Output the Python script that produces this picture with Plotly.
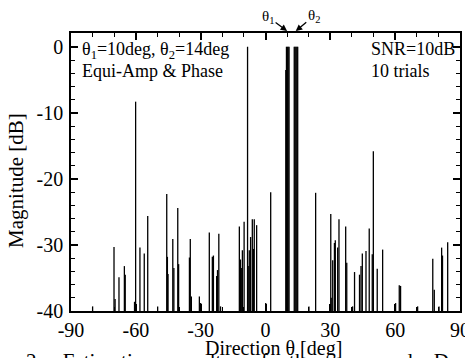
import plotly.graph_objects as go

# Estimated DOA spectrum peaks (direction in deg, magnitude in dB), 10 trials
theta_deg = [
    -80.0, -70.1, -69.6, -67.8, -65.3, -64.9, -60.6, -60.1, -58.1, -56.1,
    -54.5, -49.9, -45.7, -45.4, -45.1, -42.9, -42.4, -40.6, -40.2, -35.2,
    -34.8, -34.3, -30.6, -30.0, -26.0, -24.6, -24.1, -22.6, -22.2, -21.6,
    -20.8, -12.1, -11.6, -11.2, -10.7, -9.9, -8.3, -8.0, -7.5, -6.9,
    -6.1, -5.6, -5.2, -4.1, 0.1, 2.4, 9.4, 9.7, 10.1, 10.5,
    10.9, 13.3, 13.7, 14.1, 14.5, 14.9, 20.1, 23.2, 30.2, 30.4,
    31.1, 31.9, 32.3, 33.4, 34.0, 37.1, 37.6, 40.3, 41.2, 43.5,
    44.2, 44.8, 46.5, 48.0, 49.4, 49.9, 51.7, 54.2, 60.2, 61.9,
    62.5, 70.4, 77.4, 78.1, 80.3, 81.5, 81.9, 84.3,
]
magnitude_db = [
    -39.3, -30.3, -38.2, -34.9, -33.2, -34.5, -38.6, -8.3, -30.4, -31.3,
    -25.6, -39.3, -22.3, -31.8, -34.4, -29.1, -33.5, -24.4, -32.9, -31.9,
    -29.1, -37.8, -37.8, -38.8, -28.1, -31.8, -31.6, -34.7, -33.8, -28.3,
    -39.3, -27.2, -32.2, -33.5, -30.8, -26.5, 0.0, -33.2, -30.8, -28.8,
    -26.1, -30.6, -26.1, -27.0, -38.8, -22.0, -3.5, 0.0, 0.0, 0.0,
    0.0, 0.0, 0.0, 0.0, 0.0, 0.0, -39.3, -22.1, -25.3, -38.0,
    -32.3, -29.7, -29.3, -30.4, -26.1, -27.2, -32.7, -39.3, -34.1, -34.5,
    -33.2, -31.3, -30.9, -27.5, -31.4, -15.8, -33.6, -30.7, -38.8, -36.1,
    -36.2, -39.3, -32.1, -36.8, -39.3, -30.4, -31.6, -29.6,
]
baseline_db = -40

x_ticks = [-90, -60, -30, 0, 30, 60, 90]
x_ticktext = ["-90", "-60", "-30", "0", "30", "60", "90"]
y_ticks = [-40, -30, -20, -10, 0]
y_ticktext = ["-40", "-30", "-20", "-10", "0"]

true_doas = [10, 14]

FONT = "Liberation Serif"

xs, ys = [], []
for t, m in zip(theta_deg, magnitude_db):
    xs += [t, t, None]
    ys += [baseline_db, m, None]

fig = go.Figure()
fig.add_trace(go.Scatter(x=xs, y=ys, mode="lines",
                         line=dict(color="black", width=1.3),
                         showlegend=False, hoverinfo="skip"))

axis_common = dict(
    showline=True, linecolor="black", linewidth=1.5, mirror="ticks",
    ticks="inside", ticklen=7, tickwidth=1.5, tickcolor="black",
    showgrid=False, zeroline=False, automargin=False,
    tickfont=dict(family=FONT, size=20, color="black"),
)

fig.update_xaxes(
    range=[-90, 90], tickvals=x_ticks, ticktext=x_ticktext,
    minor=dict(dtick=10, tick0=0, ticks="inside", ticklen=4, tickwidth=1.2,
               tickcolor="black"),
    **axis_common,
)
fig.update_yaxes(
    range=[-40, 2.1], tickvals=y_ticks, ticktext=y_ticktext,
    minor=dict(dtick=2, tick0=0, ticks="inside", ticklen=4, tickwidth=1.2,
               tickcolor="black"),
    ticklabelstandoff=2,
    **axis_common,
)

ann_font = dict(family=FONT, size=18, color="black")
gap = "&nbsp;" * 4
caption = gap.join(["2.", "Estimation", "results", "of", "the", "proposed", "D"])
annotations = [
    dict(text="θ<sub>1</sub>=10deg, θ<sub>2</sub>=14deg", xref="paper", yref="paper",
         x=0.022, y=0.985, xanchor="left", yanchor="top", showarrow=False, font=ann_font),
    dict(text="Equi-Amp &amp; Phase", xref="paper", yref="paper",
         x=0.022, y=0.905, xanchor="left", yanchor="top", showarrow=False, font=ann_font),
    dict(text="SNR=10dB", xref="paper", yref="paper",
         x=0.765, y=0.985, xanchor="left", yanchor="top", showarrow=False, font=ann_font),
    dict(text="10 trials", xref="paper", yref="paper",
         x=0.765, y=0.905, xanchor="left", yanchor="top", showarrow=False, font=ann_font),
    dict(text="θ<sub>1</sub>", xref="x", yref="paper", x=true_doas[0], y=1.007,
         showarrow=True, arrowhead=2, arrowsize=1, arrowwidth=1.3, arrowcolor="black",
         ax=-19, ay=-14, font=dict(family=FONT, size=15, color="black")),
    dict(text="θ<sub>2</sub>", xref="x", yref="paper", x=true_doas[1], y=1.007,
         showarrow=True, arrowhead=2, arrowsize=1, arrowwidth=1.3, arrowcolor="black",
         ax=18, ay=-15, font=dict(family=FONT, size=15, color="black")),
    dict(text="Direction θ [deg]", xref="paper", yref="paper",
         x=0.52, y=-0.085, xanchor="center", yanchor="top", showarrow=False,
         font=dict(family=FONT, size=20, color="black")),
    dict(text="Magnitude [dB]", xref="paper", yref="paper", textangle=-90,
         x=-0.14, y=0.47, xanchor="center", yanchor="middle", showarrow=False,
         font=dict(family=FONT, size=21, color="black")),
    dict(text=caption, xref="paper", yref="paper",
         x=-0.12, y=-0.13, xanchor="left", yanchor="top", showarrow=False,
         font=dict(family=FONT, size=21, color="black")),
]

# the page body adds an 8 px offset on both sides, so the figure is 8 px smaller
fig.update_layout(
    width=465, height=350,
    margin=dict(l=63, r=13, t=25, b=47),
    paper_bgcolor="white", plot_bgcolor="white",
    font=dict(family=FONT, color="black"),
    annotations=annotations,
)

fig.write_html("out.html")
